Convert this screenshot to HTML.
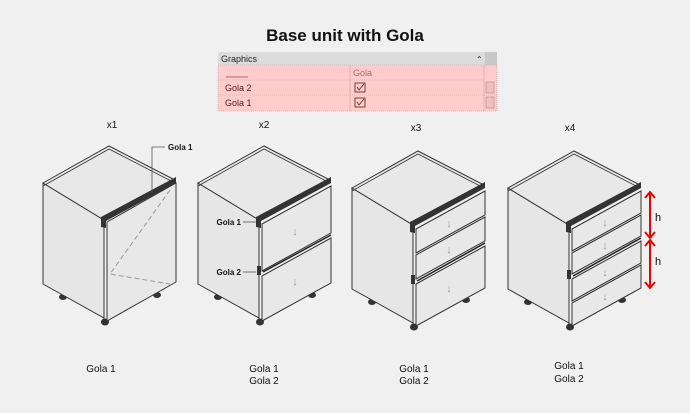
<!DOCTYPE html>
<html><head><meta charset="utf-8"><style>
html,body{margin:0;padding:0;background:#f0f0f0}
svg{display:block;font-family:"Liberation Sans",sans-serif}
</style></head><body>
<svg width="690" height="413" viewBox="0 0 690 413">
<defs>
<g id="body">
  <ellipse cx="63" cy="297" rx="4" ry="3" fill="#333"/>
  <ellipse cx="157" cy="295" rx="4" ry="3" fill="#333"/>
  <ellipse cx="105" cy="322" rx="4" ry="3.5" fill="#333"/>
  <polygon points="43,183 104,220 104,318 43,284" fill="#e6e6e6" stroke="#333" stroke-width="1"/>
  <polygon points="43,183 109,146 175,180 104,220" fill="#e8e8e8" stroke="#333" stroke-width="1"/>
  <polyline points="43,186 109,149 175,183" fill="none" stroke="#333" stroke-width="0.8"/>
  <line x1="104" y1="222" x2="104" y2="320" stroke="#333"/>
</g>
<g id="gola1">
  <polygon points="101,217 176,177 176,183 106,221 106,228 101,227" fill="#333"/>
</g>
</defs>

<text x="345" y="41" text-anchor="middle" font-size="17" font-weight="bold" fill="#111">Base unit with Gola</text>

<!-- table -->
<rect x="218" y="52" width="279" height="13" fill="#dcdcdc"/>
<text x="221" y="62" font-size="9" fill="#222">Graphics</text>
<text x="476" y="62" font-size="8" fill="#222">⌃</text>
<rect x="485" y="52" width="12" height="13" fill="#c8c8c8"/>
<rect x="218" y="65" width="279" height="46" fill="#ffcccc" stroke="#c9a0a0" stroke-width="0.6" stroke-dasharray="1,1"/>
<line x1="218" y1="80" x2="484" y2="80" stroke="#c9a0a0" stroke-width="0.6" stroke-dasharray="1,1"/>
<line x1="218" y1="95" x2="497" y2="95" stroke="#c9a0a0" stroke-width="0.6" stroke-dasharray="1,1"/>
<line x1="350" y1="65" x2="350" y2="111" stroke="#c9a0a0" stroke-width="0.6"/>
<line x1="484" y1="65" x2="484" y2="111" stroke="#c9a0a0" stroke-width="0.6"/>
<line x1="226" y1="77" x2="248" y2="77" stroke="#8a4a4a" stroke-width="0.7"/>
<text x="353" y="76" font-size="9" fill="#a07070">Gola</text>
<text x="225" y="91" font-size="9" fill="#5a1a1a">Gola 2</text>
<text x="225" y="106" font-size="9" fill="#5a1a1a">Gola 1</text>
<rect x="355" y="83" width="10" height="9" fill="none" stroke="#5a1a1a" stroke-width="0.8"/>
<polyline points="357,87 359,90 364,84" fill="none" stroke="#5a1a1a" stroke-width="0.8"/>
<rect x="355" y="98" width="10" height="9" fill="none" stroke="#5a1a1a" stroke-width="0.8"/>
<polyline points="357,102 359,105 364,99" fill="none" stroke="#5a1a1a" stroke-width="0.8"/>
<rect x="486" y="82" width="8" height="11" fill="#f0c0c0" stroke="#b08888" stroke-width="0.6"/>
<rect x="486" y="97" width="8" height="11" fill="#f0c0c0" stroke="#b08888" stroke-width="0.6"/>

<g font-size="10" fill="#111" text-anchor="middle">
<text x="112" y="128">x1</text><text x="264" y="128">x2</text><text x="416" y="131">x3</text><text x="570" y="131">x4</text>
<text x="101" y="372">Gola 1</text>
<text x="264" y="372">Gola 1</text><text x="264" y="384">Gola 2</text>
<text x="414" y="372">Gola 1</text><text x="414" y="384">Gola 2</text>
<text x="569" y="369">Gola 1</text><text x="569" y="382">Gola 2</text>
</g>

<!-- cabinet 1 -->
<g>
<use href="#body"/>
<polygon points="107,222 176,183 176,282 107,321" fill="#e8e8e8" stroke="#333"/>
<use href="#gola1"/>
<polyline points="170,190 110,274 170,284" fill="none" stroke="#999" stroke-dasharray="5,3"/>
<polyline points="152,193 152,147 165,147" fill="none" stroke="#555" stroke-width="0.8"/>
<text x="168" y="150" font-size="8" font-weight="bold" fill="#111">Gola 1</text>
</g>

<!-- cabinet 2 -->
<g transform="translate(155,0)">
<use href="#body"/>
<polygon points="107,224 176,186 176,233 107,271" fill="#e8e8e8" stroke="#333"/>
<polygon points="107,276 176,238 176,283 107,321" fill="#e8e8e8" stroke="#333"/>
<line x1="108" y1="272" x2="176" y2="235" stroke="#222" stroke-width="1.5"/>
<use href="#gola1"/>
<rect x="102" y="266" width="4" height="9" fill="#333"/>
<text x="140" y="235" font-size="11" fill="#999" text-anchor="middle">↓</text>
<text x="140" y="285" font-size="11" fill="#999" text-anchor="middle">↓</text>
<line x1="88" y1="222" x2="101" y2="222" stroke="#555" stroke-width="0.8"/>
<line x1="88" y1="272" x2="101" y2="272" stroke="#555" stroke-width="0.8"/>
<text x="86" y="225" font-size="8" font-weight="bold" fill="#111" text-anchor="end">Gola 1</text>
<text x="86" y="275" font-size="8" font-weight="bold" fill="#111" text-anchor="end">Gola 2</text>
</g>

<!-- cabinet 3 -->
<g transform="translate(309,5)">
<use href="#body"/>
<polygon points="107,224 176,186 176,210 107,248" fill="#e8e8e8" stroke="#333"/>
<polygon points="107,250 176,212 176,236 107,274" fill="#e8e8e8" stroke="#333"/>
<polygon points="107,279 176,241 176,283 107,321" fill="#e8e8e8" stroke="#333"/>
<line x1="108" y1="276" x2="176" y2="238" stroke="#222" stroke-width="1.5"/>
<use href="#gola1"/>
<rect x="102" y="270" width="4" height="9" fill="#333"/>
<text x="140" y="222" font-size="11" fill="#999" text-anchor="middle">↓</text>
<text x="140" y="248" font-size="11" fill="#999" text-anchor="middle">↓</text>
<text x="140" y="287" font-size="11" fill="#999" text-anchor="middle">↓</text>
</g>

<!-- cabinet 4 -->
<g transform="translate(465,5)">
<use href="#body"/>
<polygon points="107,224 176,186 176,208 107,246" fill="#e8e8e8" stroke="#333"/>
<polygon points="107,248 176,210 176,231 107,269" fill="#e8e8e8" stroke="#333"/>
<polygon points="107,274 176,236 176,258 107,296" fill="#e8e8e8" stroke="#333"/>
<polygon points="107,298 176,260 176,283 107,321" fill="#e8e8e8" stroke="#333"/>
<line x1="108" y1="271" x2="176" y2="233" stroke="#222" stroke-width="1.5"/>
<use href="#gola1"/>
<rect x="102" y="265" width="4" height="9" fill="#333"/>
<text x="140" y="221" font-size="11" fill="#999" text-anchor="middle">↓</text>
<text x="140" y="244" font-size="11" fill="#999" text-anchor="middle">↓</text>
<text x="140" y="271" font-size="11" fill="#999" text-anchor="middle">↓</text>
<text x="140" y="295" font-size="11" fill="#999" text-anchor="middle">↓</text>
</g>

<!-- red dimension arrows -->
<g stroke="#e00" stroke-width="2" fill="none">
<line x1="650" y1="193" x2="650" y2="237"/>
<polyline points="645,198 650,192 655,198"/>
<polyline points="645,232 650,238 655,232"/>
<line x1="650" y1="241" x2="650" y2="287"/>
<polyline points="645,246 650,240 655,246"/>
<polyline points="645,282 650,288 655,282"/>
</g>
<text x="655" y="221" font-size="11" fill="#111">h</text>
<text x="655" y="265" font-size="11" fill="#111">h</text>
</svg>
</body></html>
